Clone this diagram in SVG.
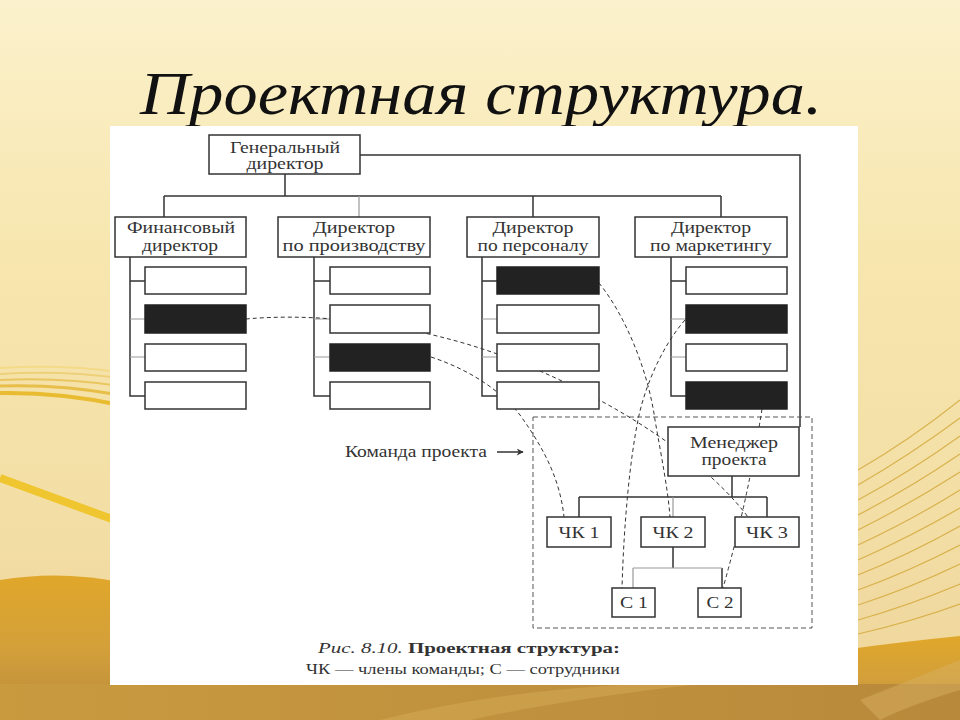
<svg xmlns="http://www.w3.org/2000/svg" width="960" height="720" viewBox="0 0 960 720">
<defs>
<linearGradient id="bg" x1="0" y1="0" x2="0" y2="1">
<stop offset="0" stop-color="#fbf1cc"/>
<stop offset="0.35" stop-color="#f7e6ae"/>
<stop offset="0.7" stop-color="#f3dfa6"/>
<stop offset="1" stop-color="#eed49a"/>
</linearGradient>
<linearGradient id="gold" x1="0" y1="0" x2="0" y2="1">
<stop offset="0" stop-color="#e0a72a"/>
<stop offset="0.5" stop-color="#d3a03a"/>
<stop offset="1" stop-color="#b98a3c"/>
</linearGradient>
<linearGradient id="goldb" x1="0" y1="0" x2="1" y2="0">
<stop offset="0" stop-color="#c99a3e"/>
<stop offset="0.5" stop-color="#c1923e"/>
<stop offset="1" stop-color="#b8893a"/>
</linearGradient>
<marker id="arr" viewBox="0 0 10 10" refX="9" refY="5" markerWidth="9" markerHeight="7" orient="auto" markerUnits="userSpaceOnUse">
<path d="M0,0 L10,5 L0,10 L3,5 Z" fill="#333"/>
</marker>
<style>
.box{fill:#fff;stroke:#333;stroke-width:1.5}
.blk{fill:#222;stroke:#222;stroke-width:1.5}
.ln{fill:none;stroke:#333;stroke-width:1.5}
.lg{fill:none;stroke:#999;stroke-width:1.2}
.dsh{fill:none;stroke:#333;stroke-width:1;stroke-dasharray:4 3}
.t{font-family:"Liberation Serif","DejaVu Serif",serif;font-size:16px;fill:#333;text-anchor:middle}
.cap{font-family:"Liberation Serif","DejaVu Serif",serif;font-size:15px;fill:#333}
.gl{fill:none;stroke:#d9b24e;stroke-width:1.2}
</style>
</defs>

<g id="background">
<rect x="0" y="0" width="960" height="720" fill="url(#bg)"/>
<path d="M0,368 Q60,364 120,372" stroke="#f3d988" stroke-width="2" fill="none"/>
<path d="M0,374 Q60,370 120,378" stroke="#eed07a" stroke-width="2" fill="none"/>
<path d="M0,380 Q60,377 120,386" stroke="#e9c660" stroke-width="2" fill="none"/>
<path d="M0,386 Q60,384 120,395" stroke="#e6be48" stroke-width="3" fill="none"/>
<path d="M0,393 Q60,392 120,405" stroke="#e8bb30" stroke-width="4" fill="none"/>
<path d="M0,478 L120,522" stroke="#f0c630" stroke-width="8" fill="none"/>
<path d="M0,580 Q60,570 120,582 L120,720 L0,720 Z" fill="url(#gold)"/>
<path d="M850,649 Q900,642 960,636 L960,720 L850,720 Z" fill="url(#gold)"/>
<rect x="0" y="684" width="960" height="36" fill="url(#goldb)"/>
<path d="M380,720 Q500,690 640,684 L700,684 Q560,700 470,720 Z" fill="#d2a654" opacity="0.6"/>
<path d="M860,700 Q910,680 960,660 L960,690 Q910,705 880,720 Z" fill="#d8b060" opacity="0.5"/>
<path class="gl" d="M858,470 Q910,440 960,400"/>
<path class="gl" d="M858,485 Q910,455 960,418"/>
<path class="gl" d="M858,500 Q910,472 960,436"/>
<path class="gl" d="M858,515 Q910,488 960,454"/>
<path class="gl" d="M858,530 Q910,504 960,472"/>
<path class="gl" d="M858,545 Q910,521 960,490"/>
<path class="gl" d="M858,560 Q910,537 960,508"/>
<path class="gl" d="M858,575 Q910,554 960,526"/>
<path class="gl" d="M858,590 Q910,571 960,545"/>
<path class="gl" d="M858,605 Q910,588 960,564"/>
<path class="gl" d="M858,620 Q910,605 960,584"/>
<path class="gl" d="M858,634 Q910,622 960,604"/>
</g>

<text x="481" y="114" font-family="'Liberation Serif','DejaVu Serif',serif" font-style="italic" font-size="62" fill="#111" text-anchor="middle" textLength="682" lengthAdjust="spacingAndGlyphs">Проектная структура.</text>

<rect id="panel" x="110" y="126" width="748" height="559" fill="#fff"/>

<g id="connectors">
<path class="ln" d="M360,155 H800 V427"/>
<path class="ln" d="M285,174 V196 M164,196 H721 M164,196 V217 M533,196 V217 M721,196 V217"/>
<path class="lg" d="M359,196 V217"/>
<path class="ln" d="M130,257 V396 H145 M130,281 H145"/>
<path class="lg" d="M130,319 H145 M130,357 H145"/>
<path class="ln" d="M314,257 V396 H330 M314,281 H330"/>
<path class="lg" d="M314,319 H330 M314,357 H330"/>
<path class="ln" d="M482,257 V396 H497 M482,281 H497"/>
<path class="lg" d="M482,319 H497 M482,357 H497"/>
<path class="ln" d="M671,257 V396 H686 M671,281 H686"/>
<path class="lg" d="M671,319 H686 M671,357 H686"/>
<path class="ln" d="M732,476 V497 M579,497 H767 M579,497 V517 M767,497 V517"/>
<path class="lg" d="M673,497 V517"/>
<path class="ln" d="M673,547 V568 M722,568 V588"/>
<path class="lg" d="M633,568 H722 M633,568 V588"/>
<path class="ln" d="M497,452 H523" marker-end="url(#arr)"/>
<rect x="533" y="417" width="279" height="211" fill="none" stroke="#555" stroke-width="1" stroke-dasharray="5 3"/>
<path class="dsh" d="M246,319 C300,314 380,318 470,345 C560,372 690,440 748,517"/>
<path class="dsh" d="M431,357 C470,370 500,390 520,415 C545,450 560,480 564,517"/>
<path class="dsh" d="M599,283 C625,315 648,370 655,420 C662,460 668,490 670,517"/>
<path class="dsh" d="M685,320 C663,345 645,385 638,420 C630,460 624,520 622,588"/>
<path class="dsh" d="M762,409 Q748,500 723,588"/>
</g>

<g id="gen-director">
<rect class="box" x="209" y="135" width="151" height="39"/>
<text class="t" x="285" y="153" textLength="110" lengthAdjust="spacingAndGlyphs">Генеральный</text>
<text class="t" x="285" y="169" textLength="77" lengthAdjust="spacingAndGlyphs">директор</text>
</g>

<g id="fin-director">
<rect class="box" x="115" y="217" width="131" height="40"/>
<text class="t" x="181" y="233" textLength="108" lengthAdjust="spacingAndGlyphs">Финансовый</text>
<text class="t" x="180" y="251" textLength="76" lengthAdjust="spacingAndGlyphs">директор</text>
</g>
<g id="prod-director">
<rect class="box" x="278" y="217" width="152" height="40"/>
<text class="t" x="354" y="233" textLength="82" lengthAdjust="spacingAndGlyphs">Директор</text>
<text class="t" x="354" y="251" textLength="143" lengthAdjust="spacingAndGlyphs">по производству</text>
</g>
<g id="hr-director">
<rect class="box" x="467" y="217" width="132" height="40"/>
<text class="t" x="533" y="233" textLength="81" lengthAdjust="spacingAndGlyphs">Директор</text>
<text class="t" x="533" y="251" textLength="111" lengthAdjust="spacingAndGlyphs">по персоналу</text>
</g>
<g id="mkt-director">
<rect class="box" x="635" y="217" width="152" height="40"/>
<text class="t" x="711" y="233" textLength="80" lengthAdjust="spacingAndGlyphs">Директор</text>
<text class="t" x="711" y="251" textLength="122" lengthAdjust="spacingAndGlyphs">по маркетингу</text>
</g>

<g id="fin-staff">
<rect class="box" x="145" y="267" width="101" height="27"/>
<rect class="blk" x="145" y="305" width="101" height="28"/>
<rect class="box" x="145" y="344" width="101" height="27"/>
<rect class="box" x="145" y="382" width="101" height="27"/>
</g>
<g id="prod-staff">
<rect class="box" x="330" y="267" width="100" height="27"/>
<rect class="box" x="330" y="305" width="100" height="28"/>
<rect class="blk" x="330" y="344" width="100" height="27"/>
<rect class="box" x="330" y="382" width="100" height="27"/>
</g>
<g id="hr-staff">
<rect class="blk" x="497" y="267" width="102" height="27"/>
<rect class="box" x="497" y="305" width="102" height="28"/>
<rect class="box" x="497" y="344" width="102" height="27"/>
<rect class="box" x="497" y="382" width="102" height="27"/>
</g>
<g id="mkt-staff">
<rect class="box" x="686" y="267" width="101" height="27"/>
<rect class="blk" x="686" y="305" width="101" height="28"/>
<rect class="box" x="686" y="344" width="101" height="27"/>
<rect class="blk" x="686" y="382" width="101" height="27"/>
</g>

<g id="team-label">
<text class="t" x="416" y="457" textLength="142" lengthAdjust="spacingAndGlyphs">Команда проекта</text>
</g>

<g id="manager">
<rect class="box" x="668" y="427" width="131" height="49" stroke="#555"/>
<text class="t" x="734" y="448" textLength="88" lengthAdjust="spacingAndGlyphs">Менеджер</text>
<text class="t" x="734" y="465" textLength="65" lengthAdjust="spacingAndGlyphs">проекта</text>
</g>

<g id="ck1">
<rect class="box" x="547" y="517" width="64" height="30"/>
<text class="t" x="579" y="538" textLength="41" lengthAdjust="spacingAndGlyphs">ЧК 1</text>
</g>
<g id="ck2">
<rect class="box" x="641" y="517" width="64" height="30" stroke="#777"/>
<text class="t" x="673" y="538" textLength="41" lengthAdjust="spacingAndGlyphs">ЧК 2</text>
</g>
<g id="ck3">
<rect class="box" x="735" y="517" width="64" height="30"/>
<text class="t" x="767" y="538" textLength="42" lengthAdjust="spacingAndGlyphs">ЧК 3</text>
</g>
<g id="c1">
<rect class="box" x="612" y="588" width="43" height="29"/>
<text class="t" x="634" y="608" textLength="28" lengthAdjust="spacingAndGlyphs">С 1</text>
</g>
<g id="c2">
<rect class="box" x="698" y="588" width="43" height="29"/>
<text class="t" x="720" y="608" textLength="27" lengthAdjust="spacingAndGlyphs">С 2</text>
</g>

<g id="caption">
<text class="cap" x="318" y="653" textLength="302" lengthAdjust="spacingAndGlyphs"><tspan font-style="italic">Рис. 8.10.</tspan> <tspan font-weight="bold">Проектная структура:</tspan></text>
<text class="cap" x="306" y="674" textLength="314" lengthAdjust="spacingAndGlyphs">ЧК — члены команды; С — сотрудники</text>
</g>
</svg>
